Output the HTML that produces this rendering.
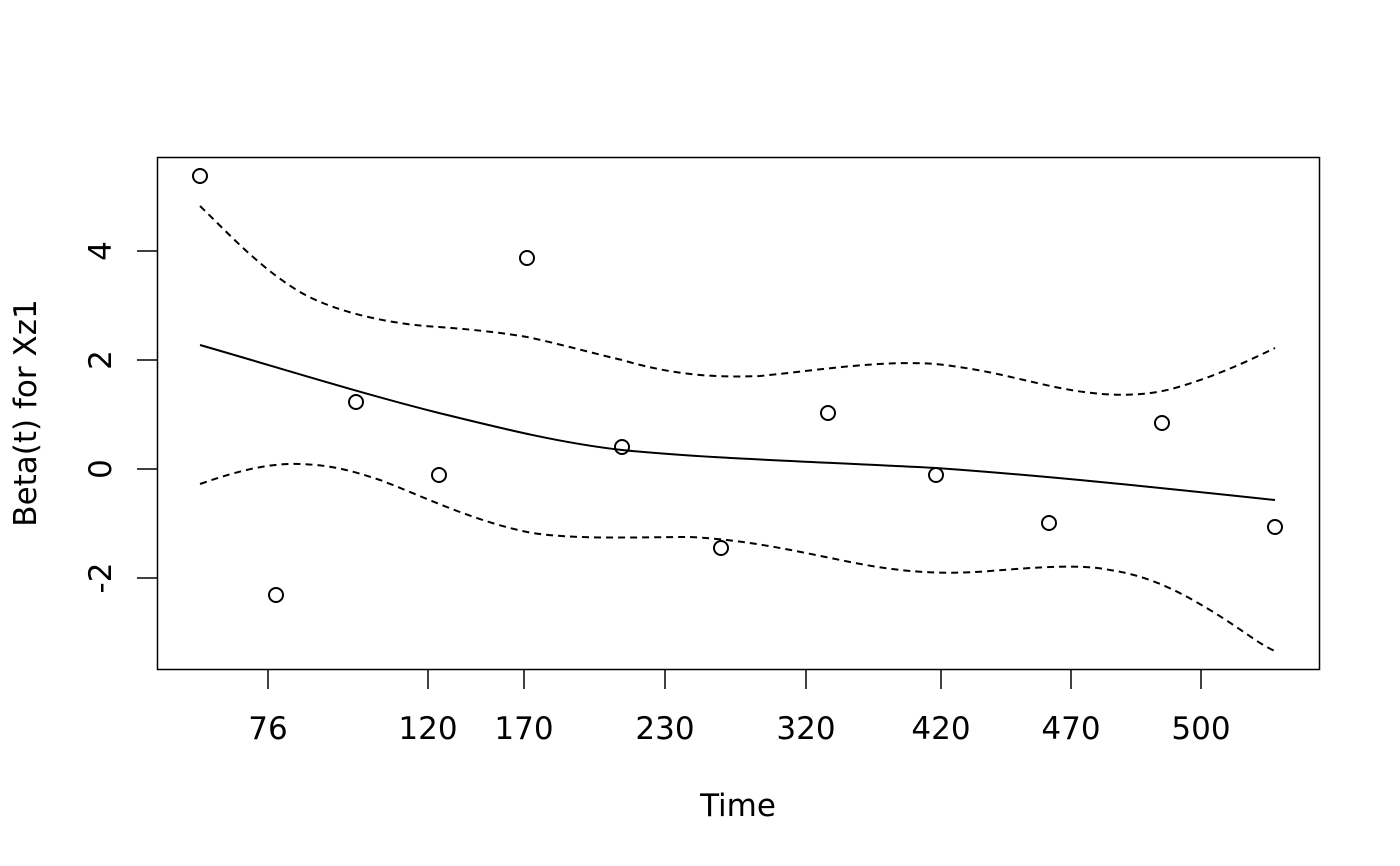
<!DOCTYPE html>
<html><head><meta charset="utf-8"><style>body{margin:0;background:#fff}svg{display:block}</style></head>
<body>
<svg width="1400" height="866" xmlns="http://www.w3.org/2000/svg" font-family="'DejaVu Sans','Liberation Sans',sans-serif" font-size="31" fill="none" stroke="#000">
<rect x="157.5" y="157.5" width="1162" height="512" stroke-width="1.5"/>
<g stroke-width="1.5">
<line x1="268" y1="669" x2="268" y2="689"/><line x1="428" y1="669" x2="428" y2="689"/>
<line x1="524" y1="669" x2="524" y2="689"/><line x1="665" y1="669" x2="665" y2="689"/>
<line x1="806" y1="669" x2="806" y2="689"/><line x1="941" y1="669" x2="941" y2="689"/>
<line x1="1071" y1="669" x2="1071" y2="689"/><line x1="1201" y1="669" x2="1201" y2="689"/>
<line x1="137" y1="251" x2="157" y2="251"/><line x1="137" y1="360" x2="157" y2="360"/>
<line x1="137" y1="469" x2="157" y2="469"/><line x1="137" y1="578" x2="157" y2="578"/>
</g>
<g fill="#000" stroke="none" text-anchor="middle">
<text x="268" y="739">76</text><text x="428" y="739">120</text><text x="524" y="739">170</text>
<text x="665" y="739">230</text><text x="806" y="739">320</text><text x="941" y="739">420</text>
<text x="1071" y="739">470</text><text x="1201" y="739">500</text>
<text x="738" y="816">Time</text>
<text transform="translate(111,251) rotate(-90)">4</text>
<text transform="translate(111,360) rotate(-90)">2</text>
<text transform="translate(111,469) rotate(-90)">0</text>
<text transform="translate(111,578) rotate(-90)">-2</text>
<text transform="translate(36,413) rotate(-90)">Beta(t) for Xz1</text>
</g>
<path stroke-width="2" d="M200,345 C280,368 356,392 439,413 C500,428 560,443 622,450 C700,458 800,461 936,468 C1049,476 1162,488 1275,500"/>
<path stroke-width="2" stroke-dasharray="7,5" d="M200,206 C230,235 260,268 300,292 C340,315 400,325 439,327 C480,330 510,334 527,337 C560,344 600,355 622,360 C670,374 710,378 760,376 C820,370 880,360 936,364 C990,370 1020,380 1060,388 C1100,396 1140,398 1175,388 C1210,378 1240,365 1275,348"/>
<path stroke-width="2" stroke-dasharray="7,5" d="M200,484 C240,470 270,463 300,464 C330,465 350,470 380,480 C420,495 470,520 527,532 C570,540 640,537 690,537 C750,540 800,552 850,562 C900,572 940,575 990,571 C1040,567 1080,564 1110,570 C1150,576 1180,592 1210,610 C1240,628 1260,645 1275,651"/>
<g stroke-width="2">
<circle cx="200" cy="176" r="7"/><circle cx="276" cy="595" r="7"/><circle cx="356" cy="402" r="7"/>
<circle cx="439" cy="475" r="7"/><circle cx="527" cy="258" r="7"/><circle cx="622" cy="447" r="7"/>
<circle cx="721" cy="548" r="7"/><circle cx="828" cy="413" r="7"/><circle cx="936" cy="475" r="7"/>
<circle cx="1049" cy="523" r="7"/><circle cx="1162" cy="423" r="7"/><circle cx="1275" cy="527" r="7"/>
</g>
</svg>
</body></html>
